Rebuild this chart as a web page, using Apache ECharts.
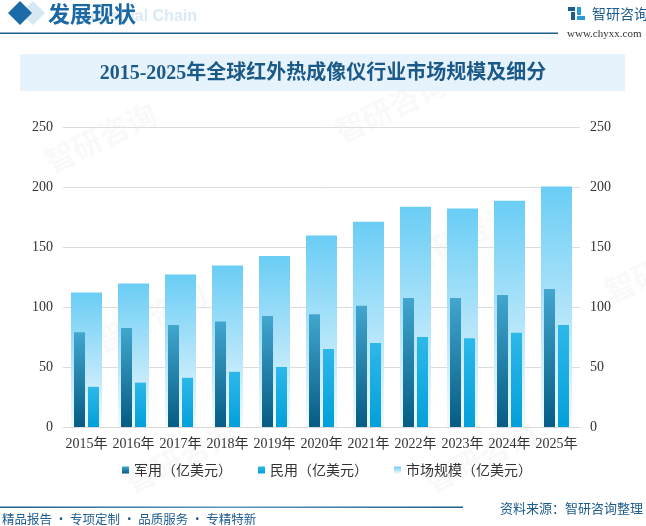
<!DOCTYPE html>
<html>
<head>
<meta charset="utf-8">
<script src="https://cdn.jsdelivr.net/npm/echarts@6/dist/echarts.min.js"></script>
<style>
  html, body { margin: 0; padding: 0; background: #fff; }
  #main { width: 646px; height: 526px; }
</style>
</head>
<body>
<div id="main"></div>
<script>
  // 数据
  const years = ['2015年','2016年','2017年','2018年','2019年','2020年','2021年','2022年','2023年','2024年','2025年']
  const military = [79, 82.5, 85, 88, 92.5, 94, 101, 107.5, 107.5, 110, 115]
  const civil = [33.5, 37, 41, 46, 50, 65, 70, 75, 74, 78.5, 85]
  const market = [112, 119.5, 127, 134.5, 142.5, 159.5, 171, 183.5, 182, 188.5, 200.5]

  const serifFont = "'Liberation Serif', 'Noto Sans CJK SC', serif"
  const cjkFont = "'Noto Sans CJK SC', sans-serif"
  const darkBlue = '#1d5c8f'

  const mychart = echarts.init(document.getElementById('main'))

  // 水印，很淡
  const marks = []
  ;[[40, 150], [330, 120], [90, 330], [400, 250], [600, 280], [120, 470], [420, 470]].forEach(p => {
    marks.push({
      type: 'text', x: p[0], y: p[1], rotation: Math.PI / 7, z: -1, silent: true,
      style: { text: '智研咨询', fill: 'rgba(190,190,190,0.09)', font: 'bold 30px ' + cjkFont }
    })
  })

  const option = {
    animation: false,
    backgroundColor: '#fff',
    grid: { left: 63, right: 66, top: 127, bottom: 99 },
    legend: {
      left: 117, top: 458,
      itemWidth: 7, itemHeight: 7, itemGap: 26,
      icon: 'rect',
      textStyle: { fontFamily: cjkFont, fontSize: 14, color: '#333' },
      data: ['军用（亿美元）', '民用（亿美元）', '市场规模（亿美元）']
    },
    xAxis: [
      {
        type: 'category', data: years,
        axisLine: { lineStyle: { color: '#d9d9d9' } },
        axisTick: { show: false },
        axisLabel: { fontFamily: serifFont, fontSize: 14, color: '#333', margin: 10, interval: 0 }
      },
      { type: 'category', data: years, show: false }
    ],
    yAxis: [
      {
        type: 'value', min: 0, max: 250, interval: 50,
        axisLine: { show: false }, axisTick: { show: false },
        splitLine: { lineStyle: { color: '#dcdcdc' } },
        axisLabel: { fontFamily: serifFont, fontSize: 14, color: '#333', margin: 10 }
      },
      {
        type: 'value', min: 0, max: 250, interval: 50,
        axisLine: { show: false }, axisTick: { show: false },
        splitLine: { show: false },
        axisLabel: { fontFamily: serifFont, fontSize: 14, color: '#333', margin: 10 }
      }
    ],
    series: [
      {
        name: '市场规模（亿美元）', type: 'bar', xAxisIndex: 1, barWidth: 31, z: 1,
        data: market,
        itemStyle: {
          color: new echarts.graphic.LinearGradient(0, 0, 0, 1, [
            { offset: 0, color: '#6acdf5' },
            { offset: 1, color: '#f2fafe' }
          ])
        }
      },
      {
        name: '军用（亿美元）', type: 'bar', barWidth: 11, barGap: '27%', z: 3,
        data: military,
        itemStyle: {
          color: new echarts.graphic.LinearGradient(0, 0, 0, 1, [
            { offset: 0, color: '#42a6cf' },
            { offset: 1, color: '#055c84' }
          ])
        }
      },
      {
        name: '民用（亿美元）', type: 'bar', barWidth: 11, z: 3,
        data: civil,
        itemStyle: {
          color: new echarts.graphic.LinearGradient(0, 0, 0, 1, [
            { offset: 0, color: '#2db8ea' },
            { offset: 1, color: '#03a0da' }
          ])
        }
      }
    ],
    graphic: marks.concat([
      // 头部
      { type: 'polygon', shape: { points: [[33, 1], [45, 13], [33, 25], [21, 13]] }, style: { fill: '#d6e8f4' } },
      { type: 'polygon', shape: { points: [[20, 1], [32, 13], [20, 25], [8, 13]] }, style: { fill: '#1a6aa8' } },
      { type: 'text', x: 197, y: 17, style: { text: 'Industrial Chain', fill: '#dbeaf7', font: 'bold 16px Arial, sans-serif', textAlign: 'right', textVerticalAlign: 'middle' } },
      { type: 'text', x: 48, y: 14, style: { text: '发展现状', fill: '#1c68a2', font: 'bold 22px ' + cjkFont, textVerticalAlign: 'middle' } },
      { type: 'rect', shape: { x: 0, y: 32.5, width: 558, height: 1.5 }, style: { fill: '#1f5f8b' } },
      // logo
      { type: 'rect', shape: { x: 568, y: 7, width: 7, height: 4 }, style: { fill: '#1d5c8f' } },
      { type: 'rect', shape: { x: 571, y: 12, width: 4, height: 8 }, style: { fill: '#1d5c8f' } },
      { type: 'rect', shape: { x: 577, y: 7, width: 4, height: 8 }, style: { fill: '#2a9ad6' } },
      { type: 'rect', shape: { x: 577, y: 16, width: 8, height: 4 }, style: { fill: '#2a9ad6' } },
      { type: 'text', x: 592, y: 14, style: { text: '智研咨询', fill: darkBlue, font: '14px ' + cjkFont, textVerticalAlign: 'middle' } },
      { type: 'text', x: 567, y: 34, style: { text: 'www.chyxx.com', fill: '#333', font: '11px ' + serifFont, textVerticalAlign: 'middle' } },
      // 标题
      { type: 'rect', shape: { x: 20, y: 54, width: 605, height: 37 }, style: { fill: '#e6f3fc' } },
      { type: 'text', x: 323, y: 74, style: { text: '2015-2025年全球红外热成像仪行业市场规模及细分', fill: '#1b5a88', font: 'bold 20px ' + serifFont, textAlign: 'center', textVerticalAlign: 'middle' } },
      // 底部
      {
        type: 'rect', shape: { x: 0, y: 506.5, width: 463, height: 1.5 },
        style: { fill: new echarts.graphic.LinearGradient(0, 0, 1, 0, [
          { offset: 0, color: '#1f5f8b' }, { offset: 0.5, color: '#5b93bd' }, { offset: 1, color: '#1f5f8b' }
        ]) }
      },
      { type: 'text', x: 643, y: 508, style: { text: '资料来源：智研咨询整理', fill: darkBlue, font: '13px ' + cjkFont, textAlign: 'right', textVerticalAlign: 'middle' } },
      { type: 'text', x: 2, y: 519, style: { text: '精品报告 · 专项定制 · 品质服务 · 专精特新', fill: darkBlue, font: '12.5px ' + cjkFont, textVerticalAlign: 'middle' } }
    ])
  }
  mychart.setOption(option)
</script>
</body>
</html>
